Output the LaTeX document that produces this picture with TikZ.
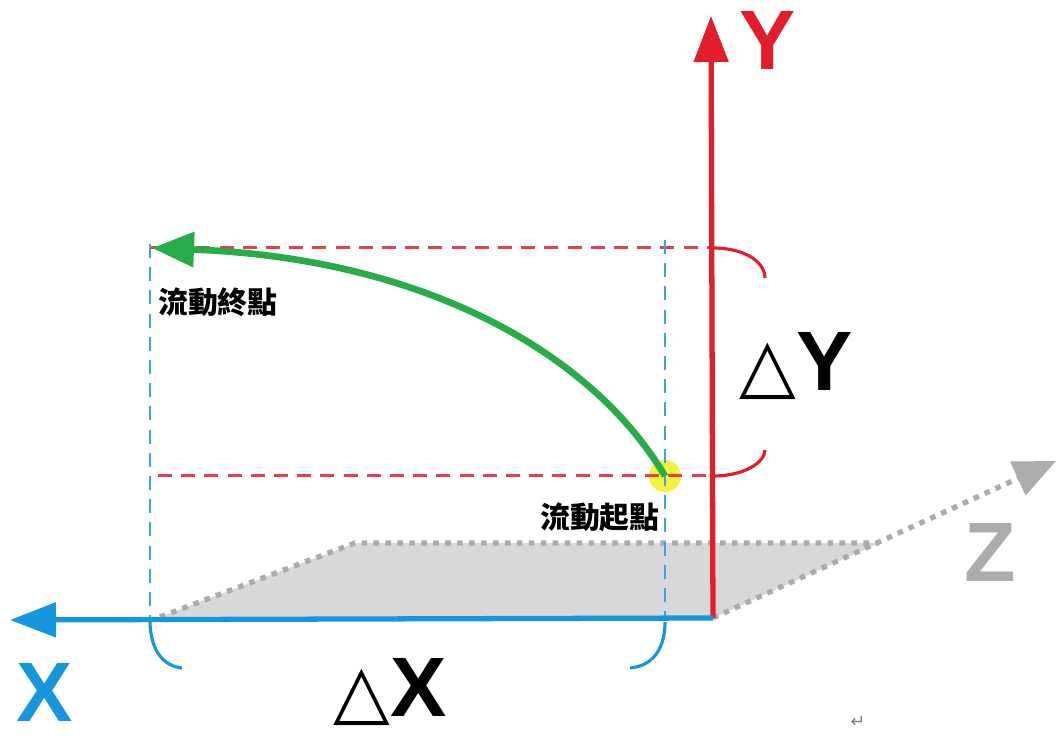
\documentclass[tikz,border=0pt]{standalone}
\usepackage{fontspec}
\setmainfont{Liberation Sans}
\newfontfamily\cjk{Noto Sans CJK TC}
\newfontfamily\symfont{DejaVu Sans}
\usetikzlibrary{arrows.meta}
\definecolor{axisred}{RGB}{226,30,44}
\definecolor{axisblue}{RGB}{22,150,220}
\definecolor{flowgreen}{RGB}{40,172,72}
\definecolor{zgray}{RGB}{172,172,172}
\definecolor{planegray}{RGB}{216,216,216}
\definecolor{dotyellow}{RGB}{240,238,30}
\tikzset{
  axisline/.style={line width=1.5pt},
  redguide/.style={axisred!85, line width=0.85pt, dash pattern=on 4pt off 2.6pt},
  blueguide/.style={axisblue!85, line width=0.85pt, dash pattern=on 4pt off 2.6pt},
  dotline/.style={zgray, line width=1.5pt, dash pattern=on 1.6pt off 1.8pt},
  bracket/.style={line width=0.9pt},
  axislabel/.style={font=\fontsize{24}{28}\selectfont\bfseries, inner sep=0pt},
  deltalabel/.style={font=\fontsize{24}{28}\selectfont, inner sep=0pt},
  cjklabel/.style={font=\cjk\fontsize{8.5}{10}\selectfont\bfseries, inner sep=0pt}
}
\begin{document}
\begin{tikzpicture}[x=0.1mm,y=-0.1mm]
\useasboundingbox (0,0) rectangle (1057,742);

% Corners
\coordinate (O) at (713,618);
\coordinate (yend) at (711,16);
\coordinate (xend) at (10,620);
\coordinate (zend) at (1056,461);
\coordinate (pl) at (160,617);
\coordinate (pt) at (355,543);
\coordinate (pr) at (879,543);
\coordinate (start) at (665,476);
\coordinate (stop) at (152,248);

% Plane
\fill[planegray] (pl) -- (pt) -- (pr) -- (O) -- cycle;
\draw[dotline] (pl) -- (pt) -- (pr);
\draw[dotline, -{Triangle[length=4.2mm, width=3.6mm]}] (O) -- (zend);

% Start point
\fill[dotyellow, opacity=0.85] (start) circle (16);

% Guides
\draw[redguide] (150,248) -- (713,248);
\draw[redguide] (158,476) -- (713,476);
\draw[blueguide] (150,244) -- (150,618);
\draw[blueguide] (665,240) -- (665,618);

% Axes
\draw[axisline, axisred, -{Triangle[length=4.6mm, width=3.4mm]}] (O) -- (yend);
\draw[axisline, axisblue, -{Triangle[length=4.6mm, width=3.4mm]}] (O) -- (xend);

% Brackets
\draw[bracket, axisred] (713,248) .. controls (745,248) and (765,262) .. (765,278);
\draw[bracket, axisred] (713,476) .. controls (745,476) and (765,462) .. (765,450);
\draw[bracket, axisblue] (150,620) .. controls (150,650) and (163,666) .. (182,668);
\draw[bracket, axisblue] (665,622) .. controls (665,650) and (652,666) .. (630,668);

% Flow
\draw[flowgreen, line width=1.9pt, -{Triangle[length=4.2mm, width=3.4mm]}]
  (start) .. controls (590,350) and (420,258) .. (stop);

% Labels
\node[axislabel, text=axisred] (ylab) at (768,40) {Y};
\node[axislabel, text=axisblue] (xlab) at (45,692) {X};
\node[axislabel, text=zgray] (zlab) at (990,552) {Z};
\node[deltalabel] (dylab) at (796,366) {{\symfont\fontsize{21}{25}\selectfont △}\textbf{Y}};
\node[deltalabel] (dxlab) at (390,692) {{\symfont\fontsize{21}{25}\selectfont △}\textbf{X}};
\node[cjklabel] (stoplab) at (218,302) {流動終點};
\node[cjklabel] (startlab) at (600,517) {流動起點};
\node[font=\symfont\fontsize{5}{6}\selectfont, text=gray] (ret) at (858,722) {↵};
\end{tikzpicture}
\end{document}
